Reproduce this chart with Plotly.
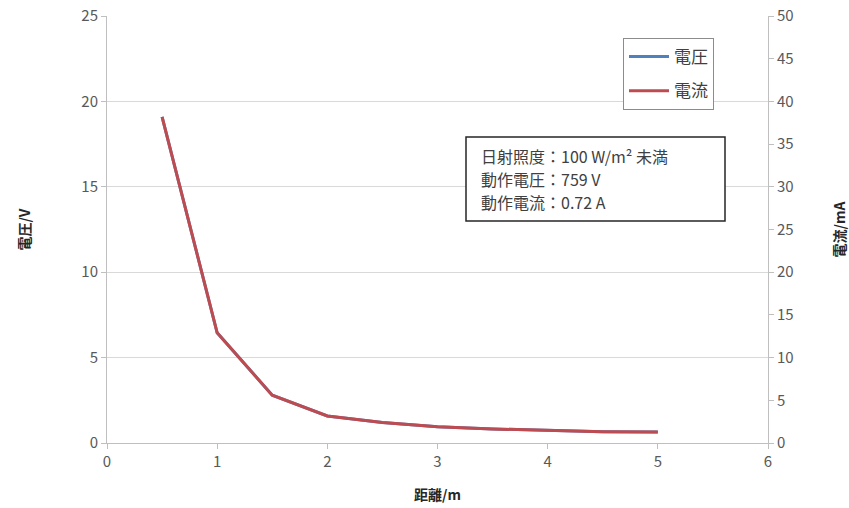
import plotly.graph_objects as go

distance = [0.5, 1.0, 1.5, 2.0, 2.5, 3.0, 3.5, 4.0, 4.5, 5.0]
voltage = [19.1, 6.45, 2.8, 1.58, 1.2, 0.95, 0.82, 0.72, 0.66, 0.64]
current = [38.2, 12.9, 5.6, 3.16, 2.4, 1.9, 1.64, 1.44, 1.32, 1.28]

note_lines = ["日射照度：100 W/m² 未満", "動作電圧：759 V", "動作電流：0.72 A"]

FONT = "Noto Sans CJK JP"
TICKC = "#595959"
TITLEC = "#262626"

W, H = 849, 508
L, R, T, B = 107, 81, 16, 65
PW, PH = W - L - R, H - T - B


def px(x):  # page x -> paper
    return (x - L) / PW


def py(y):  # page y -> paper
    return (H - B - y) / PH


fig = go.Figure()
fig.add_trace(go.Scatter(x=distance, y=voltage, name="電圧", mode="lines", legendgroup="v",
                         line=dict(color="#4F81BD", width=3)))
fig.add_trace(go.Scatter(x=distance, y=current, name="電流", mode="lines", legendgroup="c",
                         line=dict(color="#BE4B50", width=3), yaxis="y2"))

fig.update_layout(
    width=W, height=H,
    margin=dict(l=L, r=R, t=T, b=B, autoexpand=False),
    paper_bgcolor="white", plot_bgcolor="white",
    font=dict(family=FONT, color=TICKC, size=14),
    showlegend=True,
    legend=dict(x=px(623), y=py(38), xanchor="left", yanchor="top",
                bordercolor="#8c8c8c", borderwidth=1, bgcolor="white",
                font=dict(size=17, color="#404040"), traceorder="grouped",
                tracegroupgap=9, itemwidth=40),
    xaxis=dict(range=[0, 6], dtick=1, showgrid=False, zeroline=False, automargin=False,
               showline=True, linecolor="#bfbfbf", linewidth=1,
               ticks="outside", ticklen=5, tickcolor="#bfbfbf",
               tickfont=dict(size=15, color=TICKC),
               title=dict(text="<b>距離/m</b>", font=dict(size=14, color=TITLEC), standoff=20)),
    yaxis=dict(range=[0, 25], dtick=5, showgrid=True, gridcolor="#d9d9d9", gridwidth=1,
               zeroline=False, automargin=False, showline=True, linecolor="#bfbfbf", linewidth=1,
               ticks="outside", ticklen=5, tickcolor="#bfbfbf", ticklabeloverflow="allow",
               tickfont=dict(size=15, color=TICKC),
               title=dict(text="<b>電圧/V</b>", font=dict(size=14, color=TITLEC), standoff=47)),
    yaxis2=dict(range=[0, 50], dtick=5, overlaying="y", side="right", automargin=False,
                showgrid=False, zeroline=False, showline=True, linecolor="#bfbfbf", linewidth=1,
                ticks="outside", ticklen=5, tickcolor="#bfbfbf", ticklabeloverflow="allow",
                tickfont=dict(size=15, color=TICKC),
                title=dict(text="<b>電流/mA</b>", font=dict(size=14, color=TITLEC), standoff=43)),
)

# note box (frame + three lines of text)
fig.add_shape(type="rect", xref="paper", yref="paper",
              x0=px(466), x1=px(725), y0=py(221), y1=py(137),
              line=dict(color="#262626", width=1.5), fillcolor="white", layer="above")
for i, line in enumerate(note_lines):
    fig.add_annotation(
        xref="paper", yref="paper", x=px(479), y=py(156 + 23 * i),
        xanchor="left", yanchor="middle", text=line, align="left", showarrow=False,
        font=dict(size=16, color="#404040", family=FONT),
    )

fig.write_html("out.html", config={"displayModeBar": False},
               post_script="document.body.style.margin='0';document.body.style.overflow='hidden';")
